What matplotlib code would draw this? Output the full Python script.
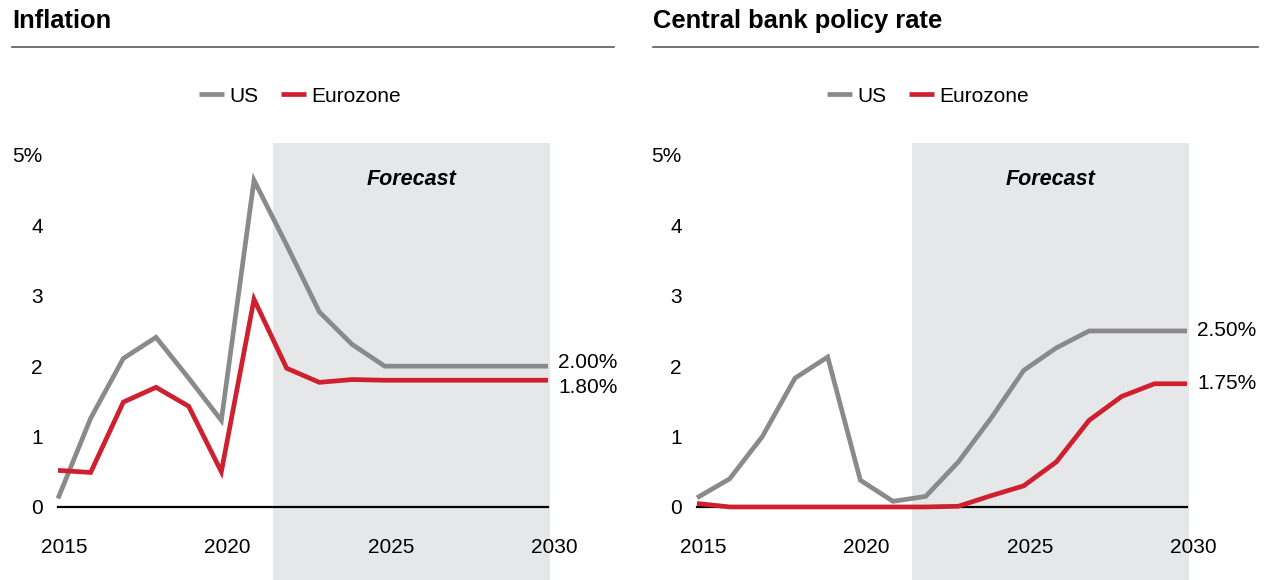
import matplotlib
matplotlib.use("Agg")
import matplotlib.pyplot as plt
import matplotlib.transforms as mtransforms
from matplotlib.lines import Line2D

plt.rcParams['font.family'] = ['Liberation Sans', 'DejaVu Sans']

# datos
years = list(range(2015, 2031))
inflation_us = [0.12, 1.26, 2.11, 2.41, 1.83, 1.23, 4.64, 3.72, 2.77, 2.31, 2.0, 2.0, 2.0, 2.0, 2.0, 2.0]
inflation_ez = [0.52, 0.49, 1.49, 1.70, 1.43, 0.50, 2.95, 1.97, 1.77, 1.81, 1.8, 1.8, 1.8, 1.8, 1.8, 1.8]
rate_us = [0.13, 0.40, 1.00, 1.83, 2.13, 0.38, 0.08, 0.15, 0.64, 1.26, 1.94, 2.26, 2.5, 2.5, 2.5, 2.5]
rate_ez = [0.05, 0.0, 0.0, 0.0, 0.0, 0.0, 0.0, 0.0, 0.01, 0.16, 0.30, 0.64, 1.23, 1.57, 1.75, 1.75]
forecast_start = 2021.58
titles = ['Inflation', 'Central bank policy rate']
end_labels = [('2.00%', '1.80%'), ('2.50%', '1.75%')]
end_offsets = [(2.9, -5.0), (0.0, 0.0)]

GREY = '#8a8a8a'
RED = '#cf2030'
SHADE = '#e6e7e9'

fig = plt.figure(figsize=(12.64, 5.8), dpi=100)

panels = [
    (inflation_us, inflation_ez, 58, 12, 614, 300),
    (rate_us, rate_ez, 697, 653, 1258, 928),
]

for i, (us, ez, x0px, rule_l, rule_r, leg_x) in enumerate(panels):
    ax = fig.add_axes([x0px / 1264, 66 / 580, 492 / 1264, 371 / 580])
    ax.set_xlim(2015, 2030.06)
    ax.set_ylim(-0.1, 5.17)
    ax.patch.set_visible(False)
    for s in ax.spines.values():
        s.set_visible(False)

    # zona de pronostico
    ax.axvspan(forecast_start, 2030.06, ymin=-66 / 371, ymax=1, color=SHADE,
               lw=0, clip_on=False, zorder=0)
    ax.text((forecast_start + 2030.06) / 2, 4.65, 'Forecast', ha='center', va='center',
            fontsize=15.5, fontweight='bold', fontstyle='italic')

    ax.plot([2015, 2030], [0, 0], color='black', lw=1.6, zorder=1, clip_on=False)
    l_us, = ax.plot(years, us, color=GREY, lw=3.4, zorder=3, clip_on=False,
                    solid_capstyle='butt', solid_joinstyle='miter', label='US')
    l_ez, = ax.plot(years, ez, color=RED, lw=3.4, zorder=4, clip_on=False,
                    solid_capstyle='butt', solid_joinstyle='miter', label='Eurozone')

    ax.set_yticks([0, 1, 2, 3, 4, 5])
    ax.set_yticklabels(['0', '1', '2', '3', '4', '5%'])
    ax.set_xticks([2015, 2020, 2025, 2030])
    ax.set_xticklabels(['2015', '2020', '2025', '2030'])
    ax.tick_params(axis='y', length=0, pad=11, labelsize=15)
    ax.tick_params(axis='x', length=0, pad=17, labelsize=15)
    shift = mtransforms.ScaledTranslation(6 / 100, 0, fig.dpi_scale_trans)
    for lab in ax.get_xticklabels():
        lab.set_transform(lab.get_transform() + shift)

    # etiquetas al final
    ax.annotate(end_labels[i][0], xy=(2030, us[-1]), xytext=(7.2, end_offsets[i][0]),
                textcoords='offset points', ha='left', va='center', fontsize=15,
                annotation_clip=False)
    ax.annotate(end_labels[i][1], xy=(2030, ez[-1]), xytext=(7.2, end_offsets[i][1]),
                textcoords='offset points', ha='left', va='center', fontsize=15,
                annotation_clip=False)

    ax.legend(handles=[l_us, l_ez], loc='center', ncol=2, frameon=False, fontsize=15,
              bbox_to_anchor=(leg_x / 1264, 1 - 96 / 580), bbox_transform=fig.transFigure,
              handlelength=1.2, handletextpad=0.28, columnspacing=1.05, borderpad=0)

    # titulo y linea
    fig.text(rule_l / 1264, 1 - 28 / 580, titles[i], fontsize=18.4, fontweight='bold',
             ha='left', va='baseline')
    fig.add_artist(Line2D([rule_l / 1264, rule_r / 1264], [1 - 47 / 580, 1 - 47 / 580],
                          color='#5a5a5a', lw=1.2, transform=fig.transFigure))

fig.savefig('out.png', dpi=100)
